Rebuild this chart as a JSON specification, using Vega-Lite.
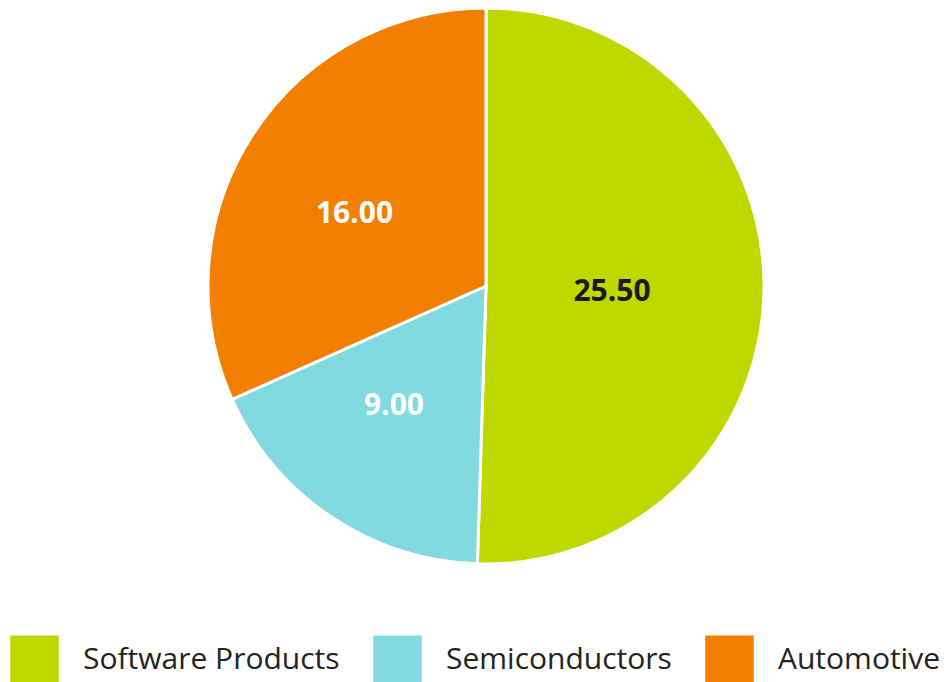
{
  "$schema": "https://vega.github.io/schema/vega-lite/v6.json",
  "width": 972,
  "height": 572,
  "padding": {"left": 0, "top": 0, "right": 0, "bottom": 110},
  "autosize": {"type": "none"},
  "background": "white",
  "data": {"values": [
    {"category": "Software Products", "value": 25.5, "idx": 1},
    {"category": "Semiconductors", "value": 9.0, "idx": 2},
    {"category": "Automotive", "value": 16.0, "idx": 3}
  ]},
  "encoding": {
    "theta": {"field": "value", "type": "quantitative", "stack": true},
    "order": {"field": "idx", "type": "quantitative"}
  },
  "layer": [
    {
      "mark": {"type": "arc", "outerRadius": 278, "stroke": "white", "strokeWidth": 3},
      "encoding": {
        "color": {
          "field": "category", "type": "nominal",
          "scale": {"domain": ["Software Products", "Semiconductors", "Automotive"], "range": ["#BFD900", "#82D9DF", "#F27F00"]},
          "legend": {
            "title": null, "orient": "none", "legendX": 10, "legendY": 635,
            "direction": "horizontal", "columns": 3, "columnPadding": 33,
            "symbolType": "square", "symbolSize": 2350, "symbolStrokeWidth": 0,
            "labelFont": "Open Sans", "labelFontSize": 30, "labelColor": "#222222",
            "labelOffset": 24, "labelLimit": 400
          }
        }
      }
    },
    {
      "mark": {"type": "text", "radius": 140, "dx": -14, "dy": 4, "font": "Open Sans", "fontSize": 30, "fontWeight": "bold"},
      "encoding": {
        "text": {"field": "value", "type": "quantitative", "format": ".2f"},
        "color": {"condition": {"test": "datum.category === 'Software Products'", "value": "#1a1a1a"}, "value": "white"}
      }
    }
  ]
}
